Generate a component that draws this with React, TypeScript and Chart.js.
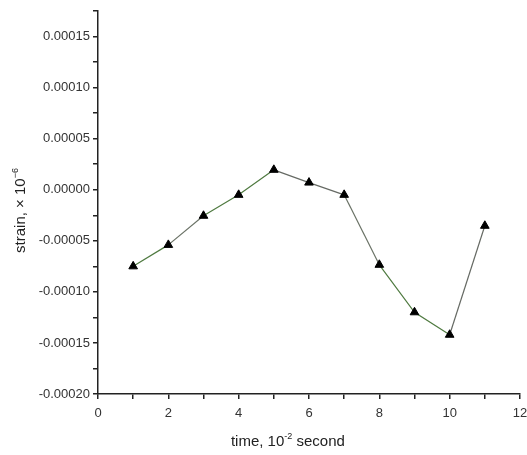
import React, { useEffect, useRef } from "react";
import { Chart, registerables } from "chart.js";

Chart.register(...registerables);

const timeValues = [1, 2, 3, 4, 5, 6, 7, 8, 9, 10, 11];
const strainValues = [
  -0.000075, -0.000054, -0.0000255, -0.000005, 0.0000195, 0.000007, -0.000005,
  -0.0000735, -0.00012, -0.000142, -0.0000353,
];
const xTitleParts = [
  { text: "time, 10", sup: false },
  { text: "-2", sup: true },
  { text: " second", sup: false },
];
const yTitleParts = [
  { text: "strain, \u00d7 10", sup: false },
  { text: "\u22126", sup: true },
];
const segmentColors = [
  "#4f7a40", "#6a7266", "#4f7a40", "#4f7a40", "#666a64",
  "#666a64", "#6a7266", "#4f7a40", "#4f7a40", "#666a64",
];

const FONT = "Liberation Sans, Arial, sans-serif";

function drawRich(ctx: CanvasRenderingContext2D, parts: { text: string; sup: boolean }[], size: number) {
  const supSize = Math.round(size * 0.62);
  let total = 0;
  const widths = parts.map((p) => {
    ctx.font = `${p.sup ? supSize : size}px ${FONT}`;
    const w = ctx.measureText(p.text).width;
    total += w;
    return w;
  });
  let x = -total / 2;
  parts.forEach((p, i) => {
    ctx.font = `${p.sup ? supSize : size}px ${FONT}`;
    ctx.fillText(p.text, x, p.sup ? -size * 0.38 : 0);
    x += widths[i];
  });
}

const titlePlugin = {
  id: "richTitles",
  afterDraw(chart: any) {
    const { ctx, chartArea } = chart;
    ctx.save();
    ctx.fillStyle = "#222";
    ctx.textBaseline = "middle";
    ctx.textAlign = "left";
    ctx.save();
    ctx.translate(chartArea.left + (chartArea.right - chartArea.left) * 0.45, chartArea.bottom + 48);
    drawRich(ctx, xTitleParts, 15);
    ctx.restore();
    ctx.save();
    ctx.translate(21, (chartArea.top + chartArea.bottom) / 2 + 8);
    ctx.rotate(-Math.PI / 2);
    drawRich(ctx, yTitleParts, 15);
    ctx.restore();
    ctx.restore();
  },
};

export default function App() {
  const ref = useRef<HTMLCanvasElement>(null);
  useEffect(() => {
    document.body.style.margin = "0";
    const chart = new Chart(ref.current!, {
      type: "line",
      data: {
        datasets: [
          {
            data: timeValues.map((t, i) => ({ x: t, y: strainValues[i] })),
            borderColor: "#55704a",
            borderWidth: 1.2,
            pointStyle: "triangle",
            pointRadius: 5,
            pointBackgroundColor: "#000",
            pointBorderColor: "#000",
            pointBorderWidth: 1,
            tension: 0,
            segment: {
              borderColor: (c: any) => segmentColors[c.p0DataIndex] || "#55704a",
            },
          },
        ],
      },
      options: {
        responsive: false,
        animation: false,
        layout: { padding: { top: 11, right: 7, left: 0, bottom: 0 } },
        plugins: { legend: { display: false }, tooltip: { enabled: false } },
        scales: {
          x: {
            type: "linear",
            min: 0,
            max: 12,
            afterFit: (s: any) => {
              s.height = 61;
              s.paddingLeft = 0;
              s.paddingRight = 0;
            },
            ticks: {
              stepSize: 1,
              autoSkip: false,
              maxRotation: 0,
              padding: 7,
              color: "#333",
              font: { family: FONT, size: 13 },
              callback: (v: any) => (Math.round(v) % 2 === 0 ? String(Math.round(v)) : ""),
            },
            grid: { drawOnChartArea: false, drawTicks: true, tickLength: 5, color: "#222", lineWidth: 1.5 },
            border: { display: true, color: "#222", width: 1.5 },
          },
          y: {
            type: "linear",
            min: -0.0002,
            max: 0.000175,
            afterFit: (s: any) => {
              s.width = 98;
              s.paddingTop = 0;
              s.paddingBottom = 0;
            },
            afterBuildTicks: (s: any) => {
              const t = [];
              for (let i = 0; i <= 15; i++) t.push({ value: -0.0002 + i * 0.000025 });
              s.ticks = t;
            },
            ticks: {
              autoSkip: false,
              padding: 3,
              color: "#333",
              font: { family: FONT, size: 13 },
              callback: (v: any, i: number) => (i % 2 === 0 ? (Math.abs(v) < 1e-12 ? "0.00000" : Number(v).toFixed(5)) : ""),
            },
            grid: { drawOnChartArea: false, drawTicks: true, tickLength: 5, color: "#222", lineWidth: 1.5 },
            border: { display: true, color: "#222", width: 1.5 },
          },
        },
      },
      plugins: [titlePlugin],
    });
    return () => chart.destroy();
  }, []);
  return <canvas ref={ref} width={527} height={455} style={{ display: "block" }} />;
}
